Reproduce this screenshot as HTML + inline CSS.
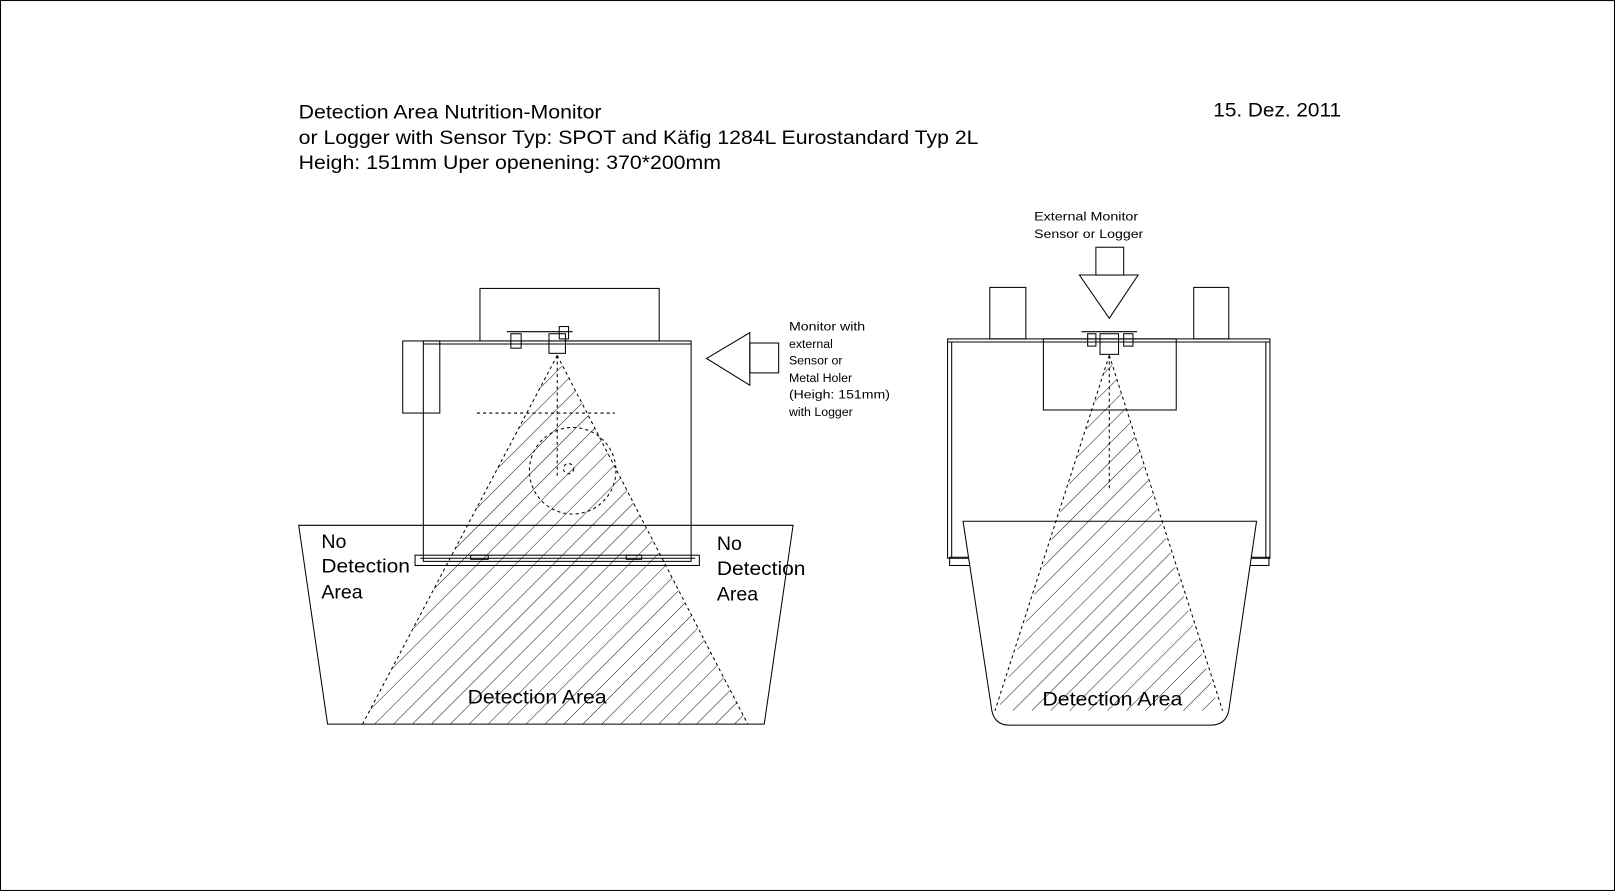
<!DOCTYPE html>
<html><head><meta charset="utf-8"><style>
html,body{margin:0;padding:0;background:#fff}
svg{display:block}
text{font-family:"Liberation Sans",sans-serif;fill:#000}
</style></head><body>
<svg width="1615" height="891" viewBox="0 0 1568 865" xmlns="http://www.w3.org/2000/svg">
<defs>
<pattern id="h" width="13" height="13" patternUnits="userSpaceOnUse" patternTransform="rotate(45)">
<line x1="0" y1="0" x2="0" y2="13" stroke="#000" stroke-width="0.9"/>
</pattern>
<clipPath id="c1"><polygon points="541,345 352,703 726,703"/></clipPath>
<clipPath id="c2"><polygon points="1077,345 966,690 1187,690"/></clipPath>
</defs>
<rect x="0.5" y="0.5" width="1567" height="864" fill="#fff" stroke="#000" stroke-width="1"/>
<g font-size="18.5" lengthAdjust="spacingAndGlyphs">
<text x="290" y="115" textLength="294" lengthAdjust="spacingAndGlyphs">Detection Area Nutrition-Monitor</text>
<text x="290" y="140" textLength="660" lengthAdjust="spacingAndGlyphs">or Logger with Sensor Typ: SPOT and Käfig 1284L Eurostandard Typ 2L</text>
<text x="290" y="164" textLength="410" lengthAdjust="spacingAndGlyphs">Heigh: 151mm Uper openening: 370*200mm</text>
<text x="1178" y="113" textLength="124" lengthAdjust="spacingAndGlyphs">15. Dez. 2011</text>
</g>
<g fill="none" stroke="#000" stroke-width="1">
<!-- left -->
<rect x="466" y="280" width="174" height="51"/>
<rect x="411" y="331" width="260" height="214"/>
<line x1="411" y1="334" x2="671" y2="334"/>
<rect x="391" y="331" width="36" height="70"/>
<rect x="403" y="539" width="276" height="10"/>
<line x1="408" y1="542" x2="675" y2="542"/>
<rect x="457" y="539" width="17" height="4"/>
<rect x="608" y="539" width="15" height="4"/>
<line x1="492" y1="322" x2="556" y2="322"/>
<rect x="496" y="324" width="10" height="14"/>
<rect x="533" y="324" width="16" height="19"/>
<rect x="543" y="317" width="9" height="12"/>
<polygon points="290,510 770,510 742,703 318,703"/>
<polygon points="541,345 352,703 726,703" fill="url(#h)" stroke="none" clip-path="url(#c1)"/>
<g stroke-dasharray="3,3">
<line x1="541" y1="345" x2="352" y2="703"/>
<line x1="541" y1="345" x2="726" y2="703"/>
<line x1="463" y1="401" x2="597" y2="401"/>
<line x1="541" y1="345" x2="541" y2="465"/>
<circle cx="556" cy="457" r="42"/>
<circle cx="552" cy="455" r="5"/>
</g>
<polygon points="686,348 728,323 728,374"/>
<rect x="728" y="333" width="28" height="29"/>
<!-- right -->
<rect x="920" y="329" width="313" height="213"/>
<line x1="924" y1="332" x2="924" y2="542"/>
<line x1="1229" y1="332" x2="1229" y2="542"/>
<line x1="920" y1="332" x2="1233" y2="332"/>
<rect x="1013" y="329" width="129" height="69"/>
<rect x="961" y="279" width="35" height="50"/>
<rect x="1159" y="279" width="34" height="50"/>
<rect x="1064" y="240" width="27" height="27"/>
<polygon points="1048,267 1105,267 1077,309"/>
<line x1="1050" y1="322" x2="1104" y2="322"/>
<rect x="1068" y="324" width="18" height="20"/>
<rect x="1056" y="324" width="8" height="12"/>
<rect x="1091" y="324" width="9" height="12"/>
<rect x="922" y="541" width="22" height="8"/>
<rect x="1210" y="541" width="22" height="8"/>
<path d="M935,506 L1220,506 L1193,690 Q1190,704 1175,704 L980,704 Q966,704 963,690 Z" fill="#fff"/>
<polygon points="1077,345 966,700 1187,700" fill="url(#h)" stroke="none" clip-path="url(#c2)"/>
<g stroke-dasharray="3,3">
<line x1="1077" y1="345" x2="966" y2="690"/>
<line x1="1077" y1="345" x2="1187" y2="690"/>
<line x1="1077" y1="345" x2="1077" y2="475"/>
</g>
</g>
<g font-size="19">
<text x="312" y="532">No</text><text x="312" y="556" textLength="86" lengthAdjust="spacingAndGlyphs">Detection</text><text x="312" y="581">Area</text>
<text x="696" y="534">No</text><text x="696" y="558" textLength="86" lengthAdjust="spacingAndGlyphs">Detection</text><text x="696" y="583">Area</text>
<text x="454" y="683" textLength="135" lengthAdjust="spacingAndGlyphs">Detection Area</text>
<text x="1012" y="685" textLength="136" lengthAdjust="spacingAndGlyphs">Detection Area</text>
</g>
<g font-size="12">
<text x="766" y="321" textLength="74" lengthAdjust="spacingAndGlyphs">Monitor with</text>
<text x="766" y="338">external</text>
<text x="766" y="354">Sensor or</text>
<text x="766" y="371">Metal Holer</text>
<text x="766" y="387" textLength="98" lengthAdjust="spacingAndGlyphs">(Heigh: 151mm)</text>
<text x="766" y="404">with Logger</text>
<text x="1004" y="214" textLength="101" lengthAdjust="spacingAndGlyphs">External Monitor</text>
<text x="1004" y="231" textLength="106" lengthAdjust="spacingAndGlyphs">Sensor or Logger</text>
</g>
</svg>
</body></html>
